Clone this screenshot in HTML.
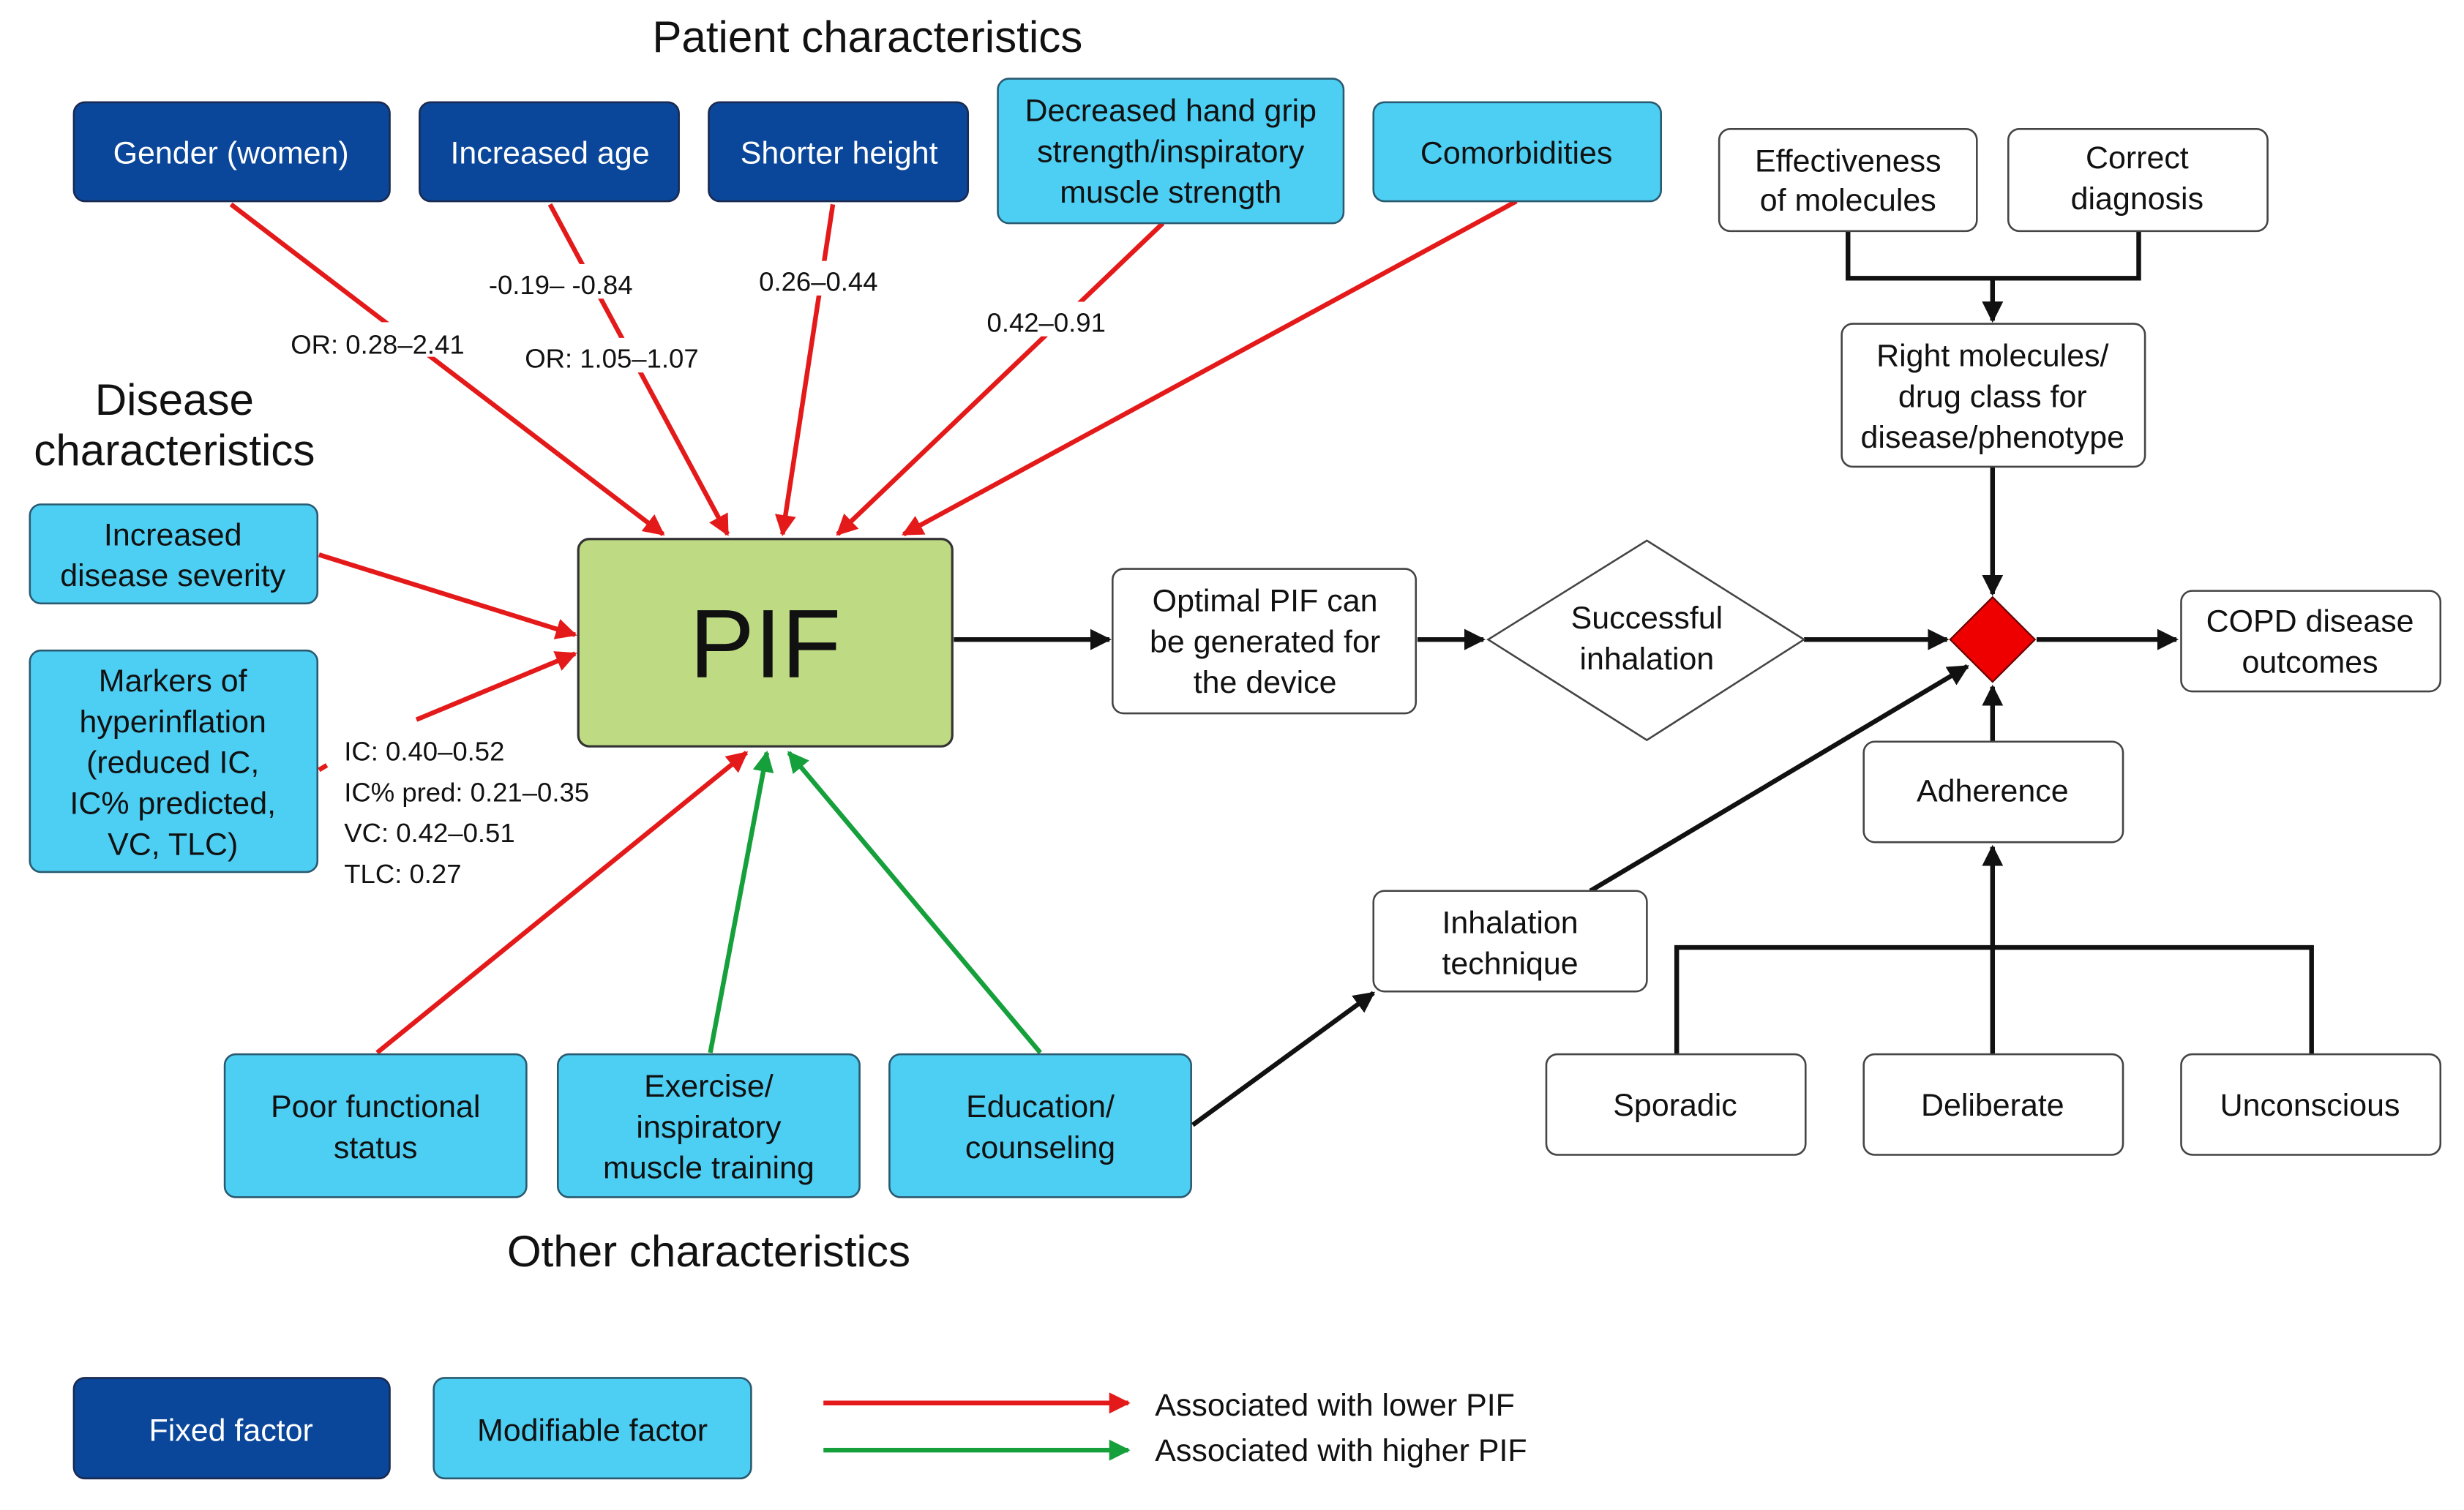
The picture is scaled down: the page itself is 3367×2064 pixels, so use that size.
<!DOCTYPE html>
<html><head><meta charset="utf-8"><style>
html,body{margin:0;padding:0;background:#fff}
svg{display:block}
text{font-family:"Liberation Sans",Arial,sans-serif}
</style></head><body>
<svg width="3367" height="2064" viewBox="0 0 1568 961" xmlns="http://www.w3.org/2000/svg">
<defs>
<marker id="ar" viewBox="0 0 10 10" refX="9" refY="5" markerWidth="4.5" markerHeight="4.5" orient="auto"><path d="M0,0L10,5L0,10z" fill="#e41a1a"/></marker>
<marker id="ag" viewBox="0 0 10 10" refX="9" refY="5" markerWidth="4.5" markerHeight="4.5" orient="auto"><path d="M0,0L10,5L0,10z" fill="#16a03c"/></marker>
<marker id="ak" viewBox="0 0 10 10" refX="9" refY="5" markerWidth="4.5" markerHeight="4.5" orient="auto"><path d="M0,0L10,5L0,10z" fill="#111"/></marker>
</defs>
<style>
.d{fill:#0a479b;stroke:#1a2a50;stroke-width:1.2}
.l{fill:#4dcff4;stroke:#2a5a70;stroke-width:1.2}
.w{fill:#fff;stroke:#444;stroke-width:1.2}
.tw{fill:#fff;font-size:20px;text-anchor:middle}
.tb{fill:#111;font-size:20px;text-anchor:middle}
.lab{fill:#111;font-size:17px}
.h{fill:#111;font-size:28px;text-anchor:middle}
.r{stroke:#e41a1a;stroke-width:3;fill:none;marker-end:url(#ar)}
.g{stroke:#16a03c;stroke-width:3;fill:none;marker-end:url(#ag)}
.k{stroke:#111;stroke-width:3;fill:none;marker-end:url(#ak)}
.kn{stroke:#111;stroke-width:3;fill:none}
</style>

<text class="h" x="552" y="33">Patient characteristics</text>
<text class="h" x="111" y="264">Disease</text>
<text class="h" x="111" y="296">characteristics</text>
<text class="h" x="451" y="806">Other characteristics</text>

<line class="r" x1="147" y1="130" x2="422" y2="340"/>
<line class="r" x1="350" y1="130" x2="463" y2="340"/>
<line class="r" x1="530" y1="130" x2="498" y2="340"/>
<line class="r" x1="740" y1="142" x2="533" y2="340"/>
<line class="r" x1="965" y1="128" x2="575" y2="340"/>
<line class="r" x1="203" y1="353" x2="366" y2="404"/>
<line class="r" x1="265" y1="458" x2="366" y2="416"/>
<line stroke="#e41a1a" stroke-width="3" x1="203" y1="490" x2="208" y2="487"/>
<line class="r" x1="240" y1="670" x2="475" y2="479"/>
<line class="g" x1="452" y1="670" x2="488" y2="479"/>
<line class="g" x1="662" y1="670" x2="502" y2="479"/>

<rect x="183" y="205" width="124" height="22" fill="#fff"/>
<rect x="308" y="168" width="110" height="22" fill="#fff"/>
<rect x="332" y="215" width="128" height="22" fill="#fff"/>
<rect x="480" y="166" width="90" height="22" fill="#fff"/>
<rect x="626" y="192" width="90" height="22" fill="#fff"/>
<text class="lab" x="185" y="225">OR: 0.28–2.41</text>
<text class="lab" x="311" y="187">-0.19– -0.84</text>
<text class="lab" x="334" y="234">OR: 1.05–1.07</text>
<text class="lab" x="483" y="185">0.26–0.44</text>
<text class="lab" x="628" y="211">0.42–0.91</text>
<text class="lab" x="219" y="484">IC: 0.40–0.52</text>
<text class="lab" x="219" y="510">IC% pred: 0.21–0.35</text>
<text class="lab" x="219" y="536">VC: 0.42–0.51</text>
<text class="lab" x="219" y="562">TLC: 0.27</text>

<rect class="d" x="47" y="65" width="201" height="63" rx="7"/><text class="tw" x="147" y="104">Gender (women)</text>
<rect class="d" x="267" y="65" width="165" height="63" rx="7"/><text class="tw" x="350" y="104">Increased age</text>
<rect class="d" x="451" y="65" width="165" height="63" rx="7"/><text class="tw" x="534" y="104">Shorter height</text>
<rect class="l" x="635" y="50" width="220" height="92" rx="7"/>
<text class="tb" x="745" y="77">Decreased hand grip</text><text class="tb" x="745" y="103">strength/inspiratory</text><text class="tb" x="745" y="129">muscle strength</text>
<rect class="l" x="874" y="65" width="183" height="63" rx="7"/><text class="tb" x="965" y="104">Comorbidities</text>

<rect class="l" x="19" y="321" width="183" height="63" rx="7"/>
<text class="tb" x="110" y="347">Increased</text><text class="tb" x="110" y="373">disease severity</text>
<rect class="l" x="19" y="414" width="183" height="141" rx="7"/>
<text class="tb" x="110" y="440">Markers of</text><text class="tb" x="110" y="466">hyperinflation</text><text class="tb" x="110" y="492">(reduced IC,</text><text class="tb" x="110" y="518">IC% predicted,</text><text class="tb" x="110" y="544">VC, TLC)</text>

<rect x="368" y="343" width="238" height="132" rx="7" fill="#bedb84" stroke="#333" stroke-width="1.5"/>
<text x="487" y="431" font-size="62" text-anchor="middle" fill="#111">PIF</text>

<rect class="l" x="143" y="671" width="192" height="91" rx="7"/>
<text class="tb" x="239" y="711">Poor functional</text><text class="tb" x="239" y="737">status</text>
<rect class="l" x="355" y="671" width="192" height="91" rx="7"/>
<text class="tb" x="451" y="698">Exercise/</text><text class="tb" x="451" y="724">inspiratory</text><text class="tb" x="451" y="750">muscle training</text>
<rect class="l" x="566" y="671" width="192" height="91" rx="7"/>
<text class="tb" x="662" y="711">Education/</text><text class="tb" x="662" y="737">counseling</text>

<line class="k" x1="607" y1="407" x2="706" y2="407"/>
<line class="k" x1="902" y1="407" x2="944" y2="407"/>
<line class="k" x1="1148" y1="407" x2="1239" y2="407"/>
<line class="k" x1="1296" y1="407" x2="1385" y2="407"/>
<polyline class="kn" points="1176,147 1176,177 1361,177 1361,147"/>
<line class="k" x1="1268" y1="177" x2="1268" y2="204"/>
<line class="k" x1="1268" y1="297" x2="1268" y2="378"/>
<line class="k" x1="1268" y1="472" x2="1268" y2="437"/>
<line class="k" x1="1012" y1="567" x2="1252" y2="424"/>
<line class="k" x1="759" y1="716" x2="874" y2="632"/>
<polyline class="kn" points="1067,671 1067,603 1471,603 1471,671"/>
<line class="k" x1="1268" y1="671" x2="1268" y2="539"/>

<rect class="w" x="708" y="362" width="193" height="92" rx="7"/>
<text class="tb" x="805" y="389">Optimal PIF can</text><text class="tb" x="805" y="415">be generated for</text><text class="tb" x="805" y="441">the device</text>
<polygon points="947,407 1048,344 1148,407 1048,471" fill="#fff" stroke="#444" stroke-width="1.2"/>
<text class="tb" x="1048" y="400">Successful</text><text class="tb" x="1048" y="426">inhalation</text>
<polygon points="1241,407 1268,380 1295,407 1268,434" fill="#e00" stroke="#600" stroke-width="1"/>
<rect class="w" x="1388" y="376" width="165" height="64" rx="7"/>
<text class="tb" x="1470" y="402">COPD disease</text><text class="tb" x="1470" y="428">outcomes</text>
<rect class="w" x="1094" y="82" width="164" height="65" rx="7"/>
<text class="tb" x="1176" y="109">Effectiveness</text><text class="tb" x="1176" y="134">of molecules</text>
<rect class="w" x="1278" y="82" width="165" height="65" rx="7"/>
<text class="tb" x="1360" y="107">Correct</text><text class="tb" x="1360" y="133">diagnosis</text>
<rect class="w" x="1172" y="206" width="193" height="91" rx="7"/>
<text class="tb" x="1268" y="233">Right molecules/</text><text class="tb" x="1268" y="259">drug class for</text><text class="tb" x="1268" y="285">disease/phenotype</text>
<rect class="w" x="1186" y="472" width="165" height="64" rx="7"/>
<text class="tb" x="1268" y="510">Adherence</text>
<rect class="w" x="874" y="567" width="174" height="64" rx="7"/>
<text class="tb" x="961" y="594">Inhalation</text><text class="tb" x="961" y="620">technique</text>
<rect class="w" x="984" y="671" width="165" height="64" rx="7"/><text class="tb" x="1066" y="710">Sporadic</text>
<rect class="w" x="1186" y="671" width="165" height="64" rx="7"/><text class="tb" x="1268" y="710">Deliberate</text>
<rect class="w" x="1388" y="671" width="165" height="64" rx="7"/><text class="tb" x="1470" y="710">Unconscious</text>

<rect class="d" x="47" y="877" width="201" height="64" rx="7"/><text class="tw" x="147" y="917">Fixed factor</text>
<rect class="l" x="276" y="877" width="202" height="64" rx="7"/><text class="tb" x="377" y="917">Modifiable factor</text>
<line class="r" x1="524" y1="893" x2="718" y2="893"/>
<line class="g" x1="524" y1="923" x2="718" y2="923"/>
<text x="735" y="901" font-size="20" fill="#111">Associated with lower PIF</text>
<text x="735" y="930" font-size="20" fill="#111">Associated with higher PIF</text>
</svg>
</body></html>
